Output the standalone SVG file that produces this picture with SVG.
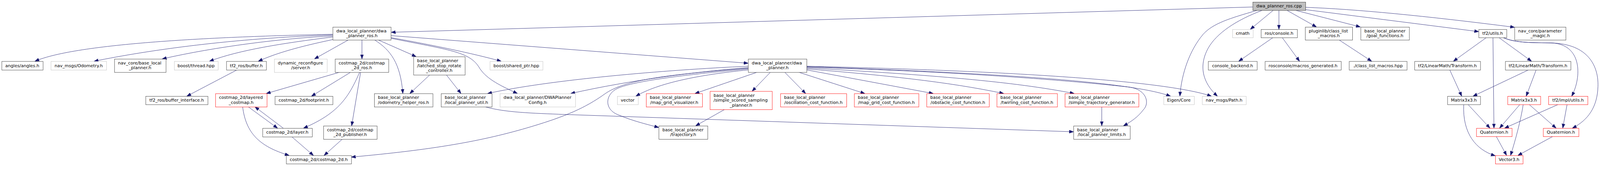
<svg xmlns="http://www.w3.org/2000/svg" width="4814" height="499" viewBox="0 0 4814 499" style="max-width:100vw;height:auto">
<style>
.nd rect{fill:#fff;stroke:#333;stroke-width:1}
.nd.g rect{stroke:#bfbfbf}
.nd.r rect{stroke:#ff0000}
.nd.root rect{fill:#bfbfbf;stroke:#333}
text{font-family:"DejaVu Sans","Liberation Sans",sans-serif;font-size:13px;fill:#000}
.s{text-anchor:start}
.m{text-anchor:middle}
#edges path{fill:none;stroke:#191970;stroke-width:1;marker-end:url(#arr)}
</style>
<defs>
<marker id="arr" viewBox="0 0 13 10" refX="13" refY="5" markerWidth="13" markerHeight="10" markerUnits="userSpaceOnUse" orient="auto">
<path d="M0,0.3 L13,5 L0,9.7 Z" fill="#191970" stroke="#191970" stroke-width="1"/>
</marker>
</defs>
<rect width="4814" height="499" fill="#fff"/>
<g id="edges">
<path d="M3769,21 L1177,97"/>
<path d="M3831,31 L3762,88"/>
<path d="M3848,31 L3848,88"/>
<path d="M3872,31 L3961,81"/>
<path d="M3898,31 L4093,81"/>
<path d="M3928,29 L4449,95"/>
<path d="M3928,22 Q4150,30 4557,82"/>
<path d="M3783,31 C3700,55 3650,70 3620,103 C3580,150 3555,220 3550,289"/>
<path d="M3798,31 C3720,60 3660,100 3635,145 C3605,200 3620,250 3663,289"/>
<path d="M3830,113 L3727,184"/>
<path d="M3858,113 L3910,184"/>
<path d="M4029,120 L4127,184"/>
<path d="M4472,113 L4373,184"/>
<path d="M4492,113 L4495,385"/>
<path d="M4510,113 L4608,184"/>
<path d="M4523,113 C4560,130 4620,128 4667,129 C4760,132 4760,230 4729,289"/>
<path d="M4523,113 C4560,130 4620,128 4667,129 C4780,132 4810,200 4808,260 C4806,320 4780,360 4731,385"/>
<path d="M4362,210 L4398,289"/>
<path d="M4599,210 L4432,289"/>
<path d="M4622,210 L4592,289"/>
<path d="M4417,314 L4483,385"/>
<path d="M4404,314 C4400,400 4440,450 4499,468"/>
<path d="M4573,314 L4512,385"/>
<path d="M4583,314 C4576,360 4560,420 4545,467"/>
<path d="M4601,314 L4682,385"/>
<path d="M4688,314 L4527,385"/>
<path d="M4715,314 L4702,385"/>
<path d="M4502,410 L4533,467"/>
<path d="M4672,410 L4567,467"/>
<path d="M1001,103 C650,110 230,130 105,184"/>
<path d="M1001,105 C700,115 450,150 283,184"/>
<path d="M1001,108 C850,115 650,140 488,177"/>
<path d="M1001,111 C850,130 720,150 630,184"/>
<path d="M1001,119 C900,140 830,160 777,184"/>
<path d="M1048,120 L946,177"/>
<path d="M1089,120 L1089,177"/>
<path d="M1127,120 C1175,150 1205,190 1212,281"/>
<path d="M1138,120 L1252,170"/>
<path d="M1176,113 C1300,135 1420,160 1508,184"/>
<path d="M1176,115 C1350,150 1410,155 1440,200 C1460,235 1500,255 1557,281"/>
<path d="M1176,107 L2251,190"/>
<path d="M1022,217 L801,281"/>
<path d="M1055,217 L937,289"/>
<path d="M1082,217 C1050,290 1020,340 913,385"/>
<path d="M1085,217 L1058,378"/>
<path d="M747,321 L835,385"/>
<path d="M852,385 L767,321"/>
<path d="M730,321 C740,400 780,440 870,467"/>
<path d="M878,411 L943,467"/>
<path d="M1030,418 L975,467"/>
<path d="M713,210 L562,289"/>
<path d="M1293,225 L1233,281"/>
<path d="M1343,225 L1387,281"/>
<path d="M1460,321 C1520,338 1600,340 1700,344 L3230,396"/>
<path d="M2251,199 C2000,210 1650,240 1467,281"/>
<path d="M2251,203 C2100,215 1900,240 1717,281"/>
<path d="M2251,205 C2000,225 1880,240 1820,282 C1760,325 1700,350 1600,380 C1450,425 1300,450 1057,472"/>
<path d="M2251,207 C2000,230 1880,250 1850,270 C1820,290 1820,330 1860,345 C1900,362 1940,372 1982,383"/>
<path d="M2251,210 C2100,225 1980,250 1913,289"/>
<path d="M2278,217 L2091,281"/>
<path d="M2318,217 L2263,274"/>
<path d="M2361,217 L2424,281"/>
<path d="M2403,217 L2602,281"/>
<path d="M2427,210 L2808,281"/>
<path d="M2427,207 C2650,225 2850,245 3020,281"/>
<path d="M2427,204 C2800,225 3050,245 3232,281"/>
<path d="M2427,200 C3000,220 3400,245 3522,289"/>
<path d="M2427,199 C3000,212 3500,240 3645,289"/>
<path d="M2427,202 C2900,215 3250,245 3400,262 C3450,270 3460,310 3440,330 C3425,350 3405,365 3380,378"/>
<path d="M2180,329 L2093,378"/>
<path d="M3315,321 L3315,378"/>
</g>
<g id="n_cpp" class="nd root"><rect x="3769.5" y="6.5" width="159" height="25"/><text class="m" x="3848.5" y="22.5">dwa_planner_ros.cpp</text></g>
<g id="n_dpr" class="nd"><rect x="1001.5" y="81.5" width="175" height="39"/><text class="s" x="1012" y="97">dwa_local_planner/dwa</text><text class="m" x="1088.5" y="111.5">_planner_ros.h</text></g>
<g id="n_cmath" class="nd g"><rect x="3708.5" y="88.5" width="62" height="25"/><text class="m" x="3739" y="104.5">cmath</text></g>
<g id="n_console" class="nd"><rect x="3794.5" y="88.5" width="109" height="25"/><text class="m" x="3848.5" y="104.5">ros/console.h</text></g>
<g id="n_plugin" class="nd"><rect x="3927.5" y="81.5" width="142" height="39"/><text class="s" x="3938" y="97">pluginlib/class_list</text><text class="m" x="3998" y="111.5">_macros.h</text></g>
<g id="n_goal" class="nd"><rect x="4094.5" y="81.5" width="146" height="39"/><text class="s" x="4105" y="97">base_local_planner</text><text class="m" x="4167" y="111.5">/goal_functions.h</text></g>
<g id="n_tf2utils" class="nd"><rect x="4449.5" y="88.5" width="84" height="25"/><text class="m" x="4491" y="104.5">tf2/utils.h</text></g>
<g id="n_param" class="nd"><rect x="4557.5" y="81.5" width="154" height="39"/><text class="s" x="4568" y="97">nav_core/parameter</text><text class="m" x="4634" y="111.5">_magic.h</text></g>
<g id="n_angles" class="nd"><rect x="5.5" y="184.5" width="124" height="26"/><text class="m" x="67" y="201.5">angles/angles.h</text></g>
<g id="n_odom" class="nd g"><rect x="153.5" y="184.5" width="167" height="26"/><text class="m" x="236.5" y="201.5">nav_msgs/Odometry.h</text></g>
<g id="n_blp" class="nd"><rect x="344.5" y="177.5" width="155" height="40"/><text class="s" x="355" y="193.5">nav_core/base_local</text><text class="m" x="421.5" y="208">_planner.h</text></g>
<g id="n_thread" class="nd g"><rect x="524.5" y="184.5" width="132" height="26"/><text class="m" x="590" y="201.5">boost/thread.hpp</text></g>
<g id="n_buffer" class="nd"><rect x="681.5" y="184.5" width="120" height="26"/><text class="m" x="741" y="201.5">tf2_ros/buffer.h</text></g>
<g id="n_dynrec" class="nd g"><rect x="825.5" y="177.5" width="159" height="40"/><text class="s" x="836" y="193.5">dynamic_reconfigure</text><text class="m" x="904.5" y="208">/server.h</text></g>
<g id="n_cros" class="nd"><rect x="1008.5" y="177.5" width="161" height="40"/><text class="s" x="1019" y="193.5">costmap_2d/costmap</text><text class="m" x="1088.5" y="208">_2d_ros.h</text></g>
<g id="n_latched" class="nd"><rect x="1244.5" y="170.5" width="155" height="55"/><text class="s" x="1255" y="187">base_local_planner</text><text class="s" x="1255" y="201.5">/latched_stop_rotate</text><text class="m" x="1321.5" y="216">_controller.h</text></g>
<g id="n_shared" class="nd g"><rect x="1474.5" y="184.5" width="159" height="26"/><text class="m" x="1553.5" y="201.5">boost/shared_ptr.hpp</text></g>
<g id="n_dp" class="nd"><rect x="2251.5" y="177.5" width="176" height="40"/><text class="s" x="2262" y="193.5">dwa_local_planner/dwa</text><text class="m" x="2339" y="208">_planner.h</text></g>
<g id="n_cbackend" class="nd"><rect x="3635.5" y="184.5" width="147" height="26"/><text class="m" x="3708.5" y="201.5">console_backend.h</text></g>
<g id="n_macgen" class="nd"><rect x="3806.5" y="184.5" width="229" height="26"/><text class="m" x="3920.5" y="201.5">rosconsole/macros_generated.h</text></g>
<g id="n_clm" class="nd"><rect x="4059.5" y="184.5" width="174" height="26"/><text class="m" x="4146" y="201.5">./class_list_macros.hpp</text></g>
<g id="n_tr1" class="nd"><rect x="4256.5" y="184.5" width="198" height="26"/><text class="m" x="4355" y="201.5">tf2/LinearMath/Transform.h</text></g>
<g id="n_tr2" class="nd"><rect x="4529.5" y="184.5" width="197" height="26"/><text class="m" x="4627.5" y="201.5">tf2/LinearMath/Transform.h</text></g>
<g id="n_bufif" class="nd"><rect x="438.5" y="289.5" width="187" height="25"/><text class="m" x="531.5" y="305.5">tf2_ros/buffer_interface.h</text></g>
<g id="n_layered" class="nd r"><rect x="648.5" y="281.5" width="155" height="40"/><text class="s" x="659" y="297.5">costmap_2d/layered</text><text class="m" x="725.5" y="312">_costmap.h</text></g>
<g id="n_footprint" class="nd"><rect x="827.5" y="289.5" width="174" height="25"/><text class="m" x="914" y="305.5">costmap_2d/footprint.h</text></g>
<g id="n_odomhelp" class="nd"><rect x="1126.5" y="281.5" width="176" height="40"/><text class="s" x="1137" y="297.5">base_local_planner</text><text class="m" x="1214" y="312">/odometry_helper_ros.h</text></g>
<g id="n_lpu" class="nd"><rect x="1327.5" y="281.5" width="153" height="40"/><text class="s" x="1338" y="297.5">base_local_planner</text><text class="m" x="1403.5" y="312">/local_planner_util.h</text></g>
<g id="n_dwacfg" class="nd g"><rect x="1504.5" y="281.5" width="227" height="40"/><text class="s" x="1515" y="297.5">dwa_local_planner/DWAPlanner</text><text class="m" x="1617.5" y="312">Config.h</text></g>
<g id="n_vector" class="nd g"><rect x="1857.5" y="289.5" width="63" height="25"/><text class="m" x="1888.5" y="305.5">vector</text></g>
<g id="n_mgv" class="nd r"><rect x="1944.5" y="281.5" width="169" height="40"/><text class="s" x="1955" y="297.5">base_local_planner</text><text class="m" x="2028.5" y="312">/map_grid_visualizer.h</text></g>
<g id="n_sssp" class="nd r"><rect x="2136.5" y="274.5" width="187" height="55"/><text class="s" x="2147" y="291">base_local_planner</text><text class="s" x="2147" y="305.5">/simple_scored_sampling</text><text class="m" x="2229.5" y="320">_planner.h</text></g>
<g id="n_osc" class="nd r"><rect x="2348.5" y="281.5" width="199" height="40"/><text class="s" x="2359" y="297.5">base_local_planner</text><text class="m" x="2447.5" y="312">/oscillation_cost_function.h</text></g>
<g id="n_mgcf" class="nd r"><rect x="2570.5" y="281.5" width="194" height="40"/><text class="s" x="2581" y="297.5">base_local_planner</text><text class="m" x="2667" y="312">/map_grid_cost_function.h</text></g>
<g id="n_ocf" class="nd r"><rect x="2788.5" y="281.5" width="188" height="40"/><text class="s" x="2799" y="297.5">base_local_planner</text><text class="m" x="2882" y="312">/obstacle_cost_function.h</text></g>
<g id="n_tcf" class="nd r"><rect x="2999.5" y="281.5" width="182" height="40"/><text class="s" x="3010" y="297.5">base_local_planner</text><text class="m" x="3090" y="312">/twirling_cost_function.h</text></g>
<g id="n_stg" class="nd r"><rect x="3204.5" y="281.5" width="222" height="40"/><text class="s" x="3215" y="297.5">base_local_planner</text><text class="m" x="3315" y="312">/simple_trajectory_generator.h</text></g>
<g id="n_eigen" class="nd g"><rect x="3501.5" y="289.5" width="92" height="25"/><text class="m" x="3547" y="305.5">Eigen/Core</text></g>
<g id="n_path" class="nd g"><rect x="3617.5" y="289.5" width="132" height="25"/><text class="m" x="3683" y="305.5">nav_msgs/Path.h</text></g>
<g id="n_m33a" class="nd"><rect x="4355.5" y="289.5" width="99" height="25"/><text class="m" x="4404.5" y="305.5">Matrix3x3.h</text></g>
<g id="n_m33b" class="nd r"><rect x="4536.5" y="289.5" width="99" height="25"/><text class="m" x="4585.5" y="305.5">Matrix3x3.h</text></g>
<g id="n_impl" class="nd r"><rect x="4659.5" y="289.5" width="118" height="25"/><text class="m" x="4718" y="305.5">tf2/impl/utils.h</text></g>
<g id="n_layer" class="nd"><rect x="790.5" y="385.5" width="149" height="26"/><text class="m" x="864.5" y="402">costmap_2d/layer.h</text></g>
<g id="n_pub" class="nd"><rect x="973.5" y="378.5" width="161" height="40"/><text class="s" x="984" y="394.5">costmap_2d/costmap</text><text class="m" x="1053.5" y="409">_2d_publisher.h</text></g>
<g id="n_traj" class="nd"><rect x="1982.5" y="378.5" width="147" height="40"/><text class="s" x="1993" y="394.5">base_local_planner</text><text class="m" x="2055.5" y="409">/trajectory.h</text></g>
<g id="n_lpl" class="nd"><rect x="3230.5" y="378.5" width="170" height="40"/><text class="s" x="3241" y="394.5">base_local_planner</text><text class="m" x="3315" y="409">/local_planner_limits.h</text></g>
<g id="n_q1" class="nd r"><rect x="4442.5" y="385.5" width="107" height="25"/><text class="m" x="4495.5" y="401.5">Quaternion.h</text></g>
<g id="n_q2" class="nd r"><rect x="4643.5" y="385.5" width="107" height="25"/><text class="m" x="4696.5" y="401.5">Quaternion.h</text></g>
<g id="n_c2d" class="nd"><rect x="861.5" y="467.5" width="196" height="25"/><text class="m" x="959" y="483.5">costmap_2d/costmap_2d.h</text></g>
<g id="n_v3" class="nd r"><rect x="4499.5" y="467.5" width="83" height="25"/><text class="m" x="4540.5" y="483.5">Vector3.h</text></g>
</svg>
